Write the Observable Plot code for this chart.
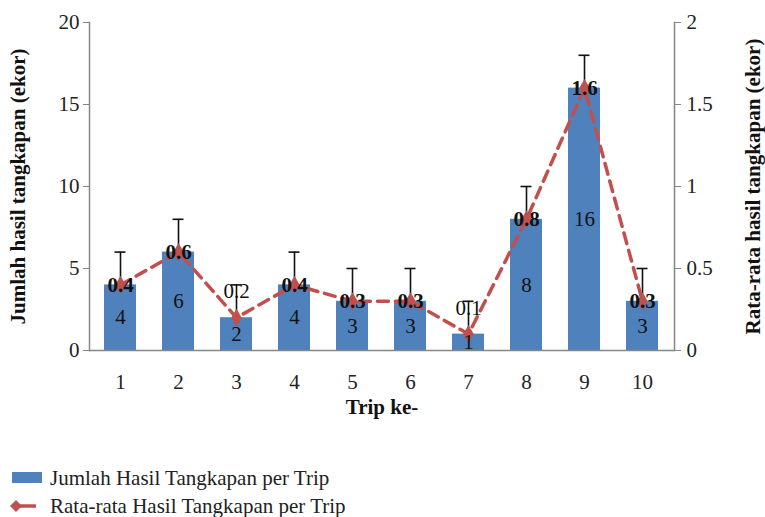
<!DOCTYPE html>
<html>
<head>
<meta charset="utf-8">
<script src="https://cdn.jsdelivr.net/npm/d3@7"></script>
<script src="https://cdn.jsdelivr.net/npm/@observablehq/plot@0.6"></script>
<style>
  html, body { margin: 0; padding: 0; background: white; }
  #wrap { position: relative; width: 765px; height: 517px; font-family: "Liberation Serif", "Times New Roman", serif; color: #222; }
  .leg { position: absolute; left: 0; display: flex; align-items: center; font-size: 21px; line-height: 20px; height: 20px; white-space: nowrap; }
  .leg svg { margin-left: 10px; margin-right: 8px; }
  svg.plot text { font-family: "Liberation Serif", "Times New Roman", serif; }
</style>
</head>
<body>
<div id="wrap"></div>
<script>
// ---- data ----
const trips = [1, 2, 3, 4, 5, 6, 7, 8, 9, 10];
const jumlah = [4, 6, 2, 4, 3, 3, 1, 8, 16, 3];
const rataRata = [0.4, 0.6, 0.2, 0.4, 0.3, 0.3, 0.1, 0.8, 1.6, 0.3];
const errorPlus = [2, 2, 2, 2, 2, 2, 2, 2, 2, 2];
const yTicks = [0, 5, 10, 15, 20];
const y2Ticks = [0, 0.5, 1, 1.5, 2];
const seriesNames = ["Jumlah Hasil Tangkapan per Trip", "Rata-rata Hasil Tangkapan per Trip"];
const yLabel = "Jumlah hasil tangkapan (ekor)";
const y2Label = "Rata-rata hasil tangkapan (ekor)";
const xLabel = "Trip ke-";

const blue = "#4F81BD";
const red = "#C0504D";
const ratio = 20 / 2; // left max / right max
const serif = "'Liberation Serif', 'Times New Roman', serif";

const rows = trips.map((t, i) => ({
  trip: t,
  jumlah: jumlah[i],
  err: jumlah[i] + errorPlus[i],
  rata: rataRata[i],
  rataScaled: rataRata[i] * ratio
}));
// line labels on short bars are lifted above the bar in the reference
const labelsOnBar = rows.filter(d => d.jumlah >= 3);
const labelsAbove = rows.filter(d => d.jumlah < 3);

const chart = Plot.plot({
  width: 765,
  height: 440,
  marginLeft: 89,
  marginRight: 91,
  marginTop: 22,
  marginBottom: 90,
  style: { fontFamily: serif, fontSize: "21px", color: "#222", background: "white" },
  x: { type: "band", domain: trips, paddingInner: 0.44, paddingOuter: 0.22 },
  y: { domain: [0, 20] },
  marks: [
    Plot.barY(rows, { x: "trip", y: "jumlah", fill: blue }),
    Plot.ruleY([0], { stroke: "#868686", strokeWidth: 1.5 }),
    Plot.frame({ anchor: "left", stroke: "#868686", strokeWidth: 1.5 }),
    Plot.frame({ anchor: "right", stroke: "#868686", strokeWidth: 1.5 }),
    Plot.ruleX(rows, { x: "trip", y1: "jumlah", y2: "err", stroke: "#111", strokeWidth: 1.6 }),
    Plot.tickY(rows, { x: "trip", y: "err", stroke: "#111", strokeWidth: 1.6, insetLeft: 10.5, insetRight: 10.5 }),
    Plot.line(rows, { x: "trip", y: "rataScaled", stroke: red, strokeWidth: 3.5, strokeDasharray: "11,7" }),
    Plot.dot(rows, { x: "trip", y: "rataScaled", symbol: "diamond", r: 5.5, fill: red }),
    Plot.text(rows, { x: "trip", y: d => d.jumlah / 2, text: d => String(d.jumlah), fill: "#111", fontSize: 21 }),
    Plot.text(labelsOnBar, { x: "trip", y: "rataScaled", text: d => String(d.rata), fill: "#111", fontSize: 21, fontWeight: "bold" }),
    Plot.text(labelsAbove, { x: "trip", y: "rataScaled", text: d => String(d.rata), fill: "#111", fontSize: 21, dy: -26 }),
    Plot.axisY({ anchor: "left", ticks: yTicks, tickSize: 6, tickPadding: 4, label: null, stroke: "#868686" }),
    Plot.axisY({ anchor: "right", ticks: y2Ticks.map(v => v * ratio), tickFormat: d => String(d / ratio), tickSize: 6, tickPadding: 6, label: null, stroke: "#868686" }),
    Plot.axisX({ tickSize: 0, tickPadding: 24, label: null }),
    Plot.text([yLabel], { frameAnchor: "left", dx: -71, rotate: -90, textAnchor: "middle", fontWeight: "bold", fontSize: 21, fill: "#111" }),
    Plot.text([y2Label], { frameAnchor: "right", dx: 79, rotate: -90, textAnchor: "middle", fontWeight: "bold", fontSize: 21, fill: "#111" }),
    Plot.text([xLabel], { frameAnchor: "bottom", dy: 63, textAnchor: "middle", fontWeight: "bold", fontSize: 21, fill: "#111" })
  ]
});

const wrap = document.getElementById("wrap");
wrap.appendChild(chart);

// legend
const leg1 = document.createElement("div");
leg1.className = "leg";
leg1.style.top = "468px";
leg1.innerHTML = `<svg width="32" height="20"><rect x="2" y="4" width="30" height="11" fill="${blue}"/></svg><span>${seriesNames[0]}</span>`;
const leg2 = document.createElement("div");
leg2.className = "leg";
leg2.style.top = "496px";
leg2.innerHTML = `<svg width="32" height="20"><line x1="4" y1="10" x2="26" y2="10" stroke="${red}" stroke-width="3.5"/><path d="M6,4 L12,10 L6,16 L0,10 Z" fill="${red}"/></svg><span>${seriesNames[1]}</span>`;
wrap.appendChild(leg1);
wrap.appendChild(leg2);
</script>
</body>
</html>
